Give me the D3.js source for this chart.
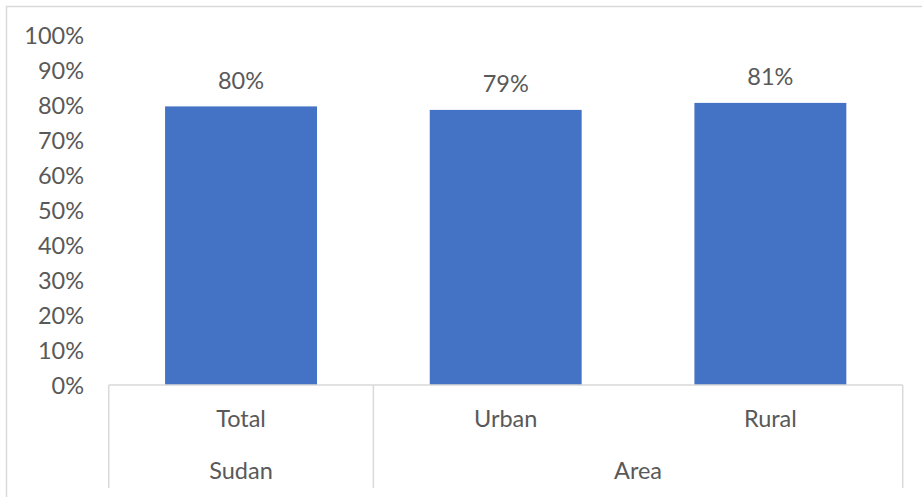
<!DOCTYPE html>
<html>
<head>
<meta charset="utf-8">
<script src="https://cdn.jsdelivr.net/npm/d3@7"></script>
<style>
  html, body { margin: 0; padding: 0; background: #fff; }
  svg { display: block; }
  text { font-family: Lato, "Open Sans", sans-serif; fill: #595959; }
</style>
</head>
<body>
<svg id="chart" width="922" height="497"></svg>
<script>
const categories = ["Total", "Urban", "Rural"];
const groupOfCategory = ["Sudan", "Area", "Area"];
const groups = ["Sudan", "Area"];
const values = [0.796, 0.786, 0.806];
const yTicks = [0, 0.1, 0.2, 0.3, 0.4, 0.5, 0.6, 0.7, 0.8, 0.9, 1.0];

(function () {
const svg = d3.select("#chart");
const W = 922, H = 497;
const plotLeft = 108.7, plotRight = 902.7, plotTop = 35, plotBottom = 385;
const fontSize = 23.5;
const gridColor = "#d9d9d9";

// Outer chart border
svg.append("rect")
  .attr("x", 6.5).attr("y", 6.5)
  .attr("width", W + 20).attr("height", H + 20)
  .attr("fill", "none").attr("stroke", gridColor).attr("stroke-width", 1.5);

const x = d3.scaleBand().domain(categories).range([plotLeft, plotRight])
  .paddingInner(0.426).paddingOuter(0.213);
const y = d3.scaleLinear().domain([0, 1]).range([plotBottom, plotTop]);

// Y axis labels
const yAxis = d3.axisLeft(y).tickValues(yTicks).tickFormat(d3.format(".0%")).tickSize(0).tickPadding(0);
const gy = svg.append("g").attr("transform", "translate(84,0)").call(yAxis);
gy.select(".domain").remove();
gy.selectAll("text")
  .attr("font-size", fontSize)
  .attr("dy", "0.35em")
  .style("font-family", "Lato, 'Open Sans', sans-serif")
  .style("fill", "#595959");
gy.attr("font-family", null).attr("font-size", null);

// Bars
svg.append("g").selectAll("rect").data(categories).join("rect")
  .attr("x", d => x(d))
  .attr("width", x.bandwidth())
  .attr("y", (d, i) => y(values[i]))
  .attr("height", (d, i) => y(0) - y(values[i]))
  .attr("fill", "#4472C4");

// Data labels
svg.append("g").selectAll("text").data(categories).join("text")
  .attr("x", d => x(d) + x.bandwidth() / 2)
  .attr("y", (d, i) => y(values[i]) - 26)
  .attr("dy", "0.35em")
  .attr("text-anchor", "middle")
  .attr("font-size", fontSize)
  .text((d, i) => d3.format(".0%")(values[i]));

// X axis baseline
const axisG = svg.append("g").attr("stroke", gridColor).attr("stroke-width", 1.5);
axisG.append("line")
  .attr("x1", plotLeft).attr("x2", plotRight)
  .attr("y1", plotBottom).attr("y2", plotBottom);

// Group spans
const spans = groups.map(g => {
  const cats = categories.filter((c, i) => groupOfCategory[i] === g);
  const start = x(cats[0]) - x.step() * x.paddingInner() / 2;
  const end = x(cats[cats.length - 1]) + x.bandwidth() + x.step() * x.paddingInner() / 2;
  return { name: g, start, end };
});

// Vertical separators at group boundaries
const boundaries = [spans[0].start].concat(spans.map(s => s.end));
axisG.selectAll("line.sep").data(boundaries).join("line")
  .attr("class", "sep")
  .attr("x1", d => d).attr("x2", d => d)
  .attr("y1", plotBottom).attr("y2", 488);

// Category labels
svg.append("g").selectAll("text").data(categories).join("text")
  .attr("x", d => x(d) + x.bandwidth() / 2)
  .attr("y", 419)
  .attr("dy", "0.35em")
  .attr("text-anchor", "middle")
  .attr("font-size", fontSize)
  .text(d => d);

// Group labels
svg.append("g").selectAll("text").data(spans).join("text")
  .attr("x", d => (d.start + d.end) / 2)
  .attr("y", 471)
  .attr("dy", "0.35em")
  .attr("text-anchor", "middle")
  .attr("font-size", fontSize)
  .text(d => d.name);
})();
</script>
</body>
</html>
